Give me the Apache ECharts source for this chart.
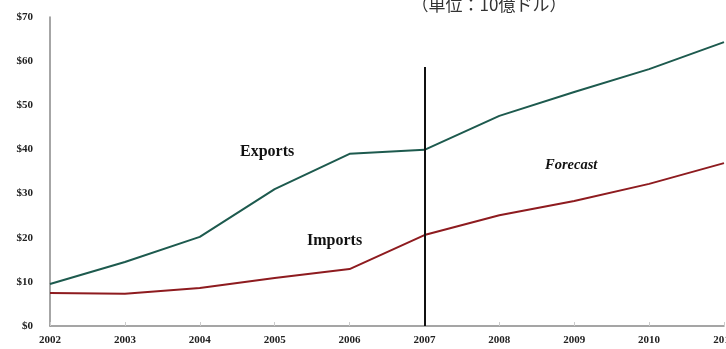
<!DOCTYPE html>
<html>
<head>
<meta charset="utf-8">
<script src="https://cdn.jsdelivr.net/npm/echarts@6/dist/echarts.min.js"></script>
<style>
html,body{margin:0;padding:0;background:#fff;}
#chart{width:726px;height:349px;}
</style>
</head>
<body>
<div id="chart"></div>
<script>
// Years on the category axis
var years = ['2002','2003','2004','2005','2006','2007','2008','2009','2010','2011'];
// Trade values, billions of US dollars
var exportsValues = [9.5, 14.5, 20.2, 31.0, 39.0, 39.9, 47.6, 53.0, 58.2, 64.3];
var importsValues = [7.5, 7.3, 8.6, 10.9, 12.9, 20.6, 25.1, 28.3, 32.2, 36.9];
// Y-axis tick labels
var yTicks = ['$0','$10','$20','$30','$40','$50','$60','$70'];
// Divider between actuals and forecast
var forecastStart = '2007';
var dividerTop = 58.7;

var serif = '"Liberation Serif","Times New Roman",serif';
var chart = echarts.init(document.getElementById('chart'));
chart.setOption({
  animation: false,
  title: {
    text: '（単位：10億ドル）',
    left: 484, textAlign: 'center', top: -9,
    textStyle: {fontFamily: '"Noto Sans CJK JP",sans-serif', fontSize: 17, fontWeight: 'normal', color: '#333'}
  },
  grid: {left: 50, right: 2, top: 17, bottom: 23, outerBoundsMode: 'none', containLabel: false},
  xAxis: {
    type: 'category', data: years, boundaryGap: false,
    axisLine: {lineStyle: {color: '#888', width: 1.5}},
    axisTick: {inside: true, length: 4, lineStyle: {color: '#ccc'}},
    axisLabel: {fontFamily: serif, fontWeight: 'bold', fontSize: 11, color: '#222', margin: 9}
  },
  yAxis: {
    type: 'value', min: 0, max: 70, interval: 10,
    axisLine: {show: true, lineStyle: {color: '#888', width: 1.5}},
    axisTick: {show: false},
    splitLine: {show: false},
    axisLabel: {
      fontFamily: serif, fontWeight: 'bold', fontSize: 11, color: '#222', margin: 17,
      formatter: function (v) { return yTicks[Math.round(v / 10)]; }
    }
  },
  series: [
    {
      name: 'Exports', type: 'line', data: exportsValues, symbol: 'none',
      lineStyle: {color: '#1d5a4e', width: 2},
      markLine: {
        silent: true, symbol: 'none',
        lineStyle: {color: '#111', width: 2, type: 'solid'},
        label: {show: false},
        data: [[{coord: [forecastStart, 0]}, {coord: [forecastStart, dividerTop]}]]
      }
    },
    {
      name: 'Imports', type: 'line', data: importsValues, symbol: 'none',
      lineStyle: {color: '#8e1b1f', width: 2}
    }
  ],
  graphic: [
    {type: 'text', left: 240, top: 144, style: {text: 'Exports', font: 'bold 16px ' + serif, fill: '#111'}},
    {type: 'text', left: 307, top: 233, style: {text: 'Imports', font: 'bold 16px ' + serif, fill: '#111'}},
    {type: 'text', left: 545, top: 158, style: {text: 'Forecast', font: 'italic bold 14.5px ' + serif, fill: '#111'}}
  ]
});
</script>
</body>
</html>
